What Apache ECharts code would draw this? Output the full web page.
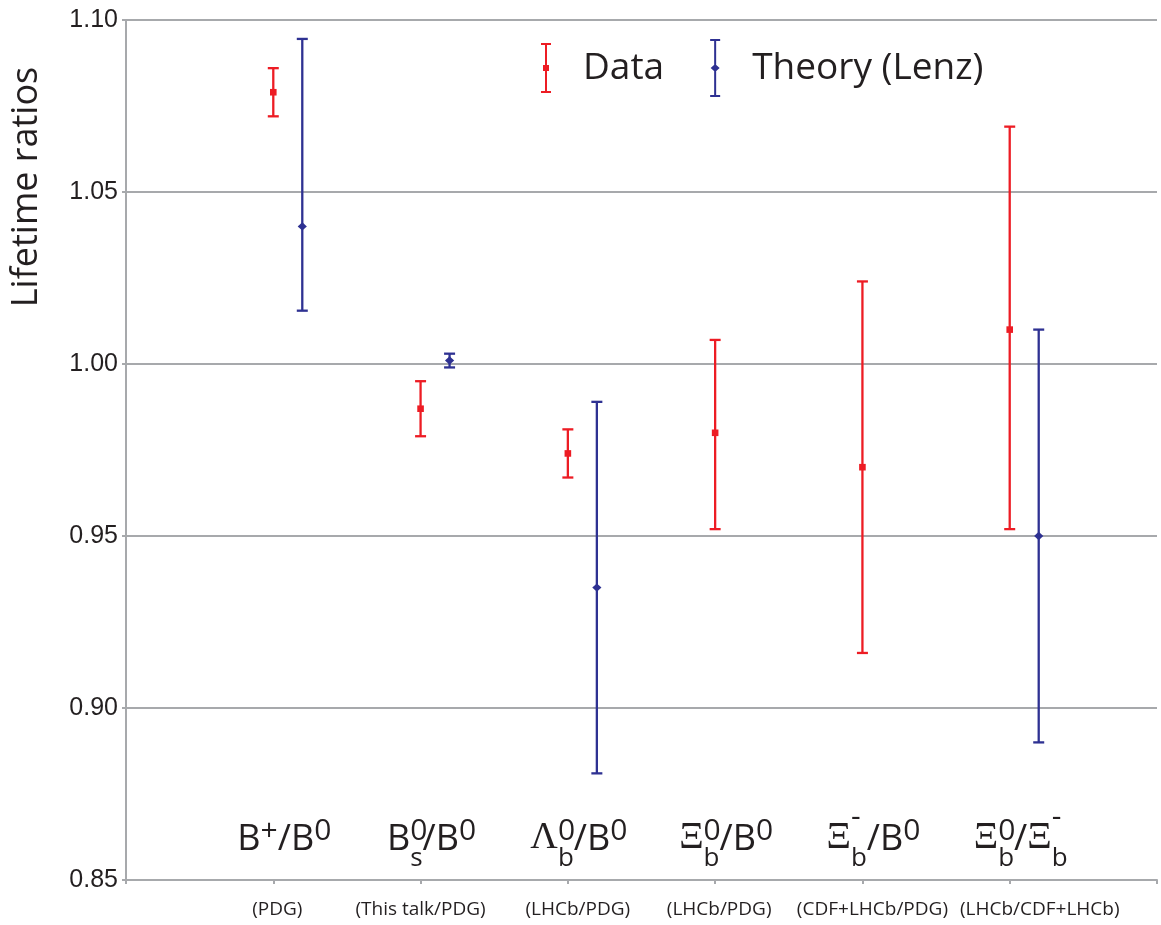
<!DOCTYPE html>
<html><head><meta charset="utf-8">
<script src="https://cdn.jsdelivr.net/npm/echarts@6/dist/echarts.min.js"></script>
<style>html,body{margin:0;padding:0;background:#fff}#c{width:1161px;height:925px}</style>
</head><body><div id="c"></div>
<script>
// ---- data ----
const particleLabels = [
  '{m|B}{sp|+}{m|/B}{sp|0}',
  '{m|B}{sz|0}{sb|s}{m|/B}{sp|0}',
  '{g|Λ}{sz|0}{sb|b}{m|/B}{sp|0}',
  '{g|Ξ}{sz|0}{sb|b}{m|/B}{sp|0}',
  '{g|Ξ}{dz|-}{sb|b}{m|/B}{sp|0}',
  '{g|Ξ}{sz|0}{sb|b}{m|/}{g|Ξ}{dz|-}{sb|b}'
];
const sourceLabels = ['(PDG)', '(This talk/PDG)', '(LHCb/PDG)', '(LHCb/PDG)', '(CDF+LHCb/PDG)', '(LHCb/CDF+LHCb)'];
const dataValues = [1.079, 0.987, 0.974, 0.980, 0.970, 1.010];
const dataLow    = [1.072, 0.979, 0.967, 0.952, 0.916, 0.952];
const dataHigh   = [1.086, 0.995, 0.981, 1.007, 1.024, 1.069];
const theoryValues = [1.040, 1.001, 0.935, null, null, 0.950];
const theoryLow    = [1.0155, 0.999, 0.881, null, null, 0.890];
const theoryHigh   = [1.0945, 1.003, 0.989, null, null, 1.010];
const yMin = 0.85, yMax = 1.10, yStep = 0.05;

// ---- styling ----
const RED = '#ED1C24', BLUE = '#2E3192', GRAY = '#A7A9AC', INK = '#231F20';
// horizontal nudges (px) of the source captions, as in the original slide
const sourceNudge = [4, 0, 10, 4, 10, 30];

const chart = echarts.init(document.getElementById('c'), null, {renderer: 'canvas'});

function buildRows(vals, lo, hi) {
  const rows = [];
  vals.forEach((v, i) => { if (v != null) rows.push([i + 1, v, lo[i], hi[i]]); });
  return rows;
}

function errorBarSeries(name, color, rows, offset, marker) {
  return {
    type: 'custom', name: name,
    itemStyle: {color: color},
    data: rows,
    encode: {x: 0, y: [1, 2, 3]},
    z: marker === 'square' ? 3 : 4,
    renderItem: function (params, api) {
      const xv = api.value(0);
      const c = api.coord([xv, api.value(1)]);
      const lo = api.coord([xv, api.value(2)]);
      const hi = api.coord([xv, api.value(3)]);
      const px = c[0] + offset;
      const hw = 5.5;
      const st = {stroke: color, lineWidth: 2.3, fill: null};
      const children = [
        {type: 'line', shape: {x1: px, y1: hi[1], x2: px, y2: lo[1]}, style: st},
        {type: 'line', shape: {x1: px - hw, y1: hi[1], x2: px + hw, y2: hi[1]}, style: st},
        {type: 'line', shape: {x1: px - hw, y1: lo[1], x2: px + hw, y2: lo[1]}, style: st}
      ];
      if (marker === 'square') {
        children.push({type: 'rect', shape: {x: px - 3.3, y: c[1] - 3.3, width: 6.6, height: 6.6}, style: {fill: color}});
      } else {
        children.push({type: 'polygon', shape: {points: [[px, c[1] - 4.2], [px + 4.6, c[1]], [px, c[1] + 4.2], [px - 4.6, c[1]]]}, style: {fill: color}});
      }
      return {type: 'group', children: children};
    }
  };
}

const dataIcon = 'path://M0,0H10V2H0Z M4,0H6V50H4Z M0,48H10V50H0Z M2,22H8V28H2Z';
const theoryIcon = 'path://M0,0H10V2H0Z M4,0H6V58H4Z M0,56H10V58H0Z M5,25L9.5,29L5,33L0.5,29Z';

function tok(font, size, padTop, extra) {
  return Object.assign({fontFamily: font, fontSize: size, color: INK, lineHeight: 70,
    verticalAlign: 'top', align: 'left', padding: [padTop, 0, 0, 0]}, extra || {});
}

const sourceRich = {};
sourceNudge.forEach((n, i) => {
  sourceRich['p' + i] = {fontFamily: 'Open Sans', fontSize: 19, color: INK, padding: [0, 0, 0, 2 * n]};
});

const option = {
  backgroundColor: '#ffffff',
  animation: false,
  grid: {left: 126, right: 4, top: 20, bottom: 45, containLabel: false},
  legend: {
    left: 541, top: 39, padding: 0,
    itemWidth: 10, itemHeight: 58, itemGap: 46,
    data: [{name: 'Data', icon: dataIcon}, {name: 'Theory (Lenz)', icon: theoryIcon}],
    textStyle: {fontFamily: 'Open Sans', fontSize: 37, color: INK, padding: [0, 0, 0, 27]}
  },
  xAxis: [
    {
      type: 'value', min: 0, max: 7, interval: 1, position: 'bottom',
      axisLine: {show: true, lineStyle: {color: GRAY, width: 2}},
      axisTick: {show: true, length: 4, lineStyle: {color: GRAY, width: 2}},
      splitLine: {show: false},
      axisLabel: {
        margin: 20, fontFamily: 'Open Sans', fontSize: 19, color: INK,
        formatter: function (v) {
          const s = sourceLabels[v - 1];
          return s ? '{p' + (v - 1) + '|' + s + '}' : '';
        },
        rich: sourceRich
      }
    },
    {
      type: 'value', min: 0, max: 7, interval: 1, position: 'bottom',
      axisLine: {show: false}, axisTick: {show: false}, splitLine: {show: false},
      axisLabel: {
        inside: true, margin: 12, verticalAlign: 'bottom', align: 'center',
        padding: [0, 0, 0, 22],
        formatter: function (v) { return particleLabels[v - 1] || ''; },
        rich: {
          m: tok('Open Sans', 36, 24),
          g: tok('Liberation Serif', 38, 21),
          sp: tok('Open Sans', 30, 18),
          sz: tok('Open Sans', 30, 18, {width: 0}),
          dz: tok('Open Sans', 30, 4, {width: 0}),
          sb: tok('Open Sans', 26, 48)
        }
      }
    }
  ],
  yAxis: {
    type: 'value', min: yMin, max: yMax, interval: yStep,
    axisLine: {show: true, lineStyle: {color: GRAY, width: 2}},
    axisTick: {show: true, length: 4, lineStyle: {color: GRAY, width: 2}},
    splitLine: {show: true, lineStyle: {color: GRAY, width: 2}},
    axisLabel: {
      margin: 8, fontFamily: 'Liberation Sans', fontSize: 25, color: INK,
      formatter: function (v) { return v.toFixed(2); }
    }
  },
  graphic: [{
    type: 'text', x: 27, y: 187, rotation: Math.PI / 2,
    style: {text: 'Lifetime ratios', font: '36px "Open Sans"', fill: INK, align: 'center', verticalAlign: 'middle'}
  }],
  series: [
    errorBarSeries('Data', RED, buildRows(dataValues, dataLow, dataHigh), 0, 'square'),
    errorBarSeries('Theory (Lenz)', BLUE, buildRows(theoryValues, theoryLow, theoryHigh), 29, 'diamond')
  ]
};
chart.setOption(option);
</script>
</body></html>
